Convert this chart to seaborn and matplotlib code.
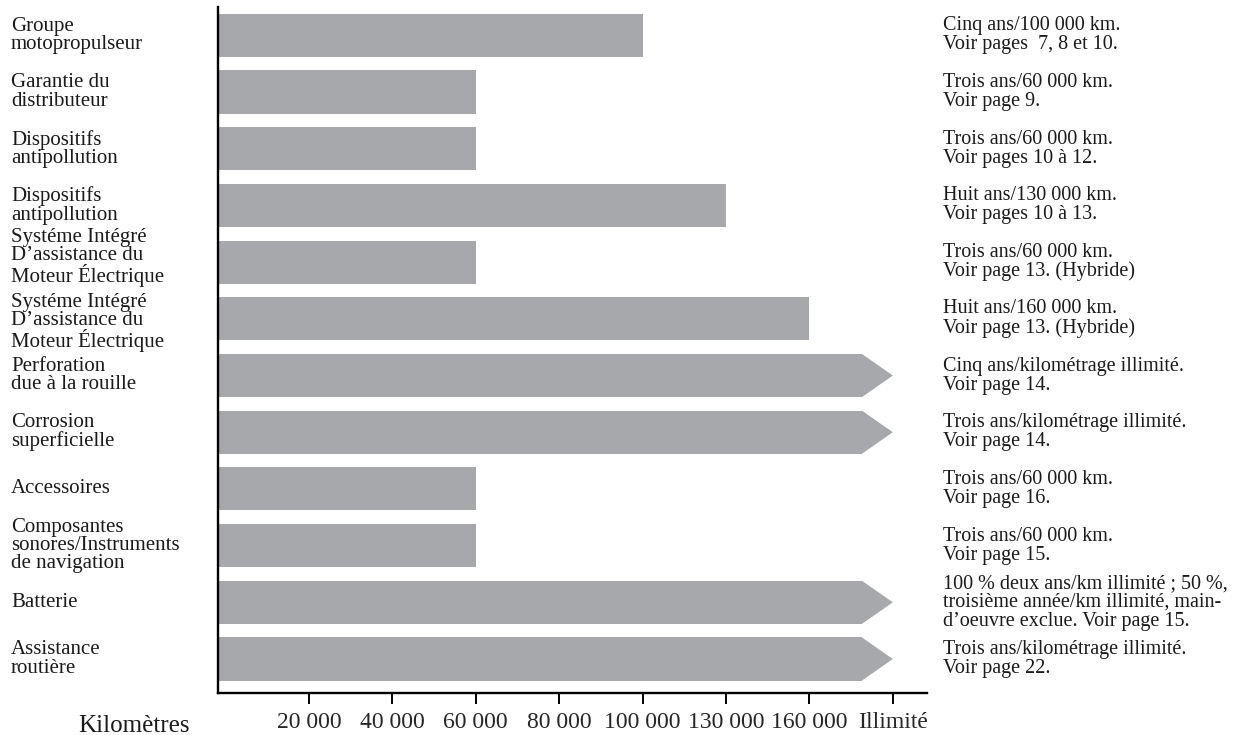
import matplotlib
matplotlib.use("Agg")
import matplotlib.pyplot as plt
import matplotlib.transforms as mtransforms
from matplotlib.patches import Polygon
import pandas as pd
import seaborn as sns

# --- données ---
garanties = [
    "Groupe\nmotopropulseur",
    "Garantie du\ndistributeur",
    "Dispositifs\nantipollution",
    "Dispositifs\nantipollution",
    "Systéme Intégré\nD’assistance du\nMoteur Électrique",
    "Systéme Intégré\nD’assistance du\nMoteur Électrique",
    "Perforation\ndue à la rouille",
    "Corrosion\nsuperficielle",
    "Accessoires",
    "Composantes\nsonores/Instruments\nde navigation",
    "Batterie",
    "Assistance\nroutière",
]
kilometrage = [100000, 60000, 60000, 130000, 60000, 160000,
               "Illimité", "Illimité", 60000, 60000, "Illimité", "Illimité"]
conditions = [
    "Cinq ans/100 000 km.\nVoir pages  7, 8 et 10.",
    "Trois ans/60 000 km.\nVoir page 9.",
    "Trois ans/60 000 km.\nVoir pages 10 à 12.",
    "Huit ans/130 000 km.\nVoir pages 10 à 13.",
    "Trois ans/60 000 km.\nVoir page 13. (Hybride)",
    "Huit ans/160 000 km.\nVoir page 13. (Hybride)",
    "Cinq ans/kilométrage illimité.\nVoir page 14.",
    "Trois ans/kilométrage illimité.\nVoir page 14.",
    "Trois ans/60 000 km.\nVoir page 16.",
    "Trois ans/60 000 km.\nVoir page 15.",
    "100 % deux ans/km illimité ; 50 %,\ntroisième année/km illimité, main-\nd’oeuvre exclue. Voir page 15.",
    "Trois ans/kilométrage illimité.\nVoir page 22.",
]
echelle_km = [20000, 40000, 60000, 80000, 100000, 130000, 160000, "Illimité"]
echelle_labels = ["20 000", "40 000", "60 000", "80 000", "100 000",
                  "130 000", "160 000", "Illimité"]

GRIS = "#a7a8ab"
POINTE = 0.37      # longueur de la pointe de flèche (en pas d'échelle)
EPAISSEUR = 0.76

# l'échelle est en pas réguliers : 20 000 -> 1, ..., Illimité -> 8
positions = [echelle_km.index(v) + 1 for v in kilometrage]
illimite = [v == "Illimité" for v in kilometrage]
longueurs = [p - POINTE if ill else p for p, ill in zip(positions, illimite)]

df = pd.DataFrame({"rang": range(len(garanties)), "longueur": longueurs})

sns.set_theme(style="ticks")
plt.rcParams["font.family"] = ["Liberation Serif", "DejaVu Serif"]

fig = plt.figure(figsize=(12.47, 7.35), dpi=100)
ax = fig.add_axes([0.1748, 0.0571, 0.5686, 0.9334])

sns.barplot(data=df, x="longueur", y="rang", orient="y", color=GRIS,
            saturation=1, width=EPAISSEUR, errorbar=None, linewidth=0, ax=ax)

xmin = -0.09
ax.set_xlim(xmin, 8.41)
ax.set_ylim(len(garanties) - 0.4, -0.5)

# les barres partent de l'axe vertical
for patch in ax.patches:
    patch.set_width(patch.get_width() + patch.get_x() - xmin)
    patch.set_x(xmin)

# pointes de flèche pour le kilométrage illimité
for i, (p, ill) in enumerate(zip(positions, illimite)):
    if ill:
        ax.add_patch(Polygon([(p - POINTE, i - EPAISSEUR / 2), (p, i),
                              (p - POINTE, i + EPAISSEUR / 2)],
                             closed=True, facecolor=GRIS, edgecolor="none"))

ax.set_xticks(range(1, len(echelle_labels) + 1))
ax.set_xticklabels(echelle_labels, fontsize=17)
ax.tick_params(axis="x", length=8, width=1.4, pad=6, color="black")
ax.tick_params(axis="y", left=False, labelleft=False)
ax.set_xlabel("")
ax.set_ylabel("")
sns.despine(ax=ax)
for s in ["left", "bottom"]:
    ax.spines[s].set_linewidth(1.7)
    ax.spines[s].set_color("black")

trans = mtransforms.blended_transform_factory(fig.transFigure, ax.transData)
nb_lignes = [lab.count("\n") + 1 for lab in garanties]
for i, (lab, cond) in enumerate(zip(garanties, conditions)):
    # deux libellés de trois lignes qui se suivent : on les écarte un peu
    dy = 0
    if nb_lignes[i] == 3 and i + 1 < len(garanties) and nb_lignes[i + 1] == 3:
        dy += 3.5
    if nb_lignes[i] == 3 and i > 0 and nb_lignes[i - 1] == 3:
        dy -= 2.5
    t_lab = mtransforms.offset_copy(trans, fig=fig, y=dy, units="points")
    ax.text(11 / 1247, i, lab, transform=t_lab, ha="left", va="center",
            fontsize=15, linespacing=0.95, color="#1a1a1a")
    ax.text(943 / 1247, i, cond, transform=trans, ha="left", va="center",
            fontsize=14.5, linespacing=1.0, color="#1a1a1a")

fig.text(78 / 1247, 3 / 735, "Kilomètres", ha="left", va="baseline",
         fontsize=18, color="#1a1a1a")

fig.savefig("out.png", dpi=100)
